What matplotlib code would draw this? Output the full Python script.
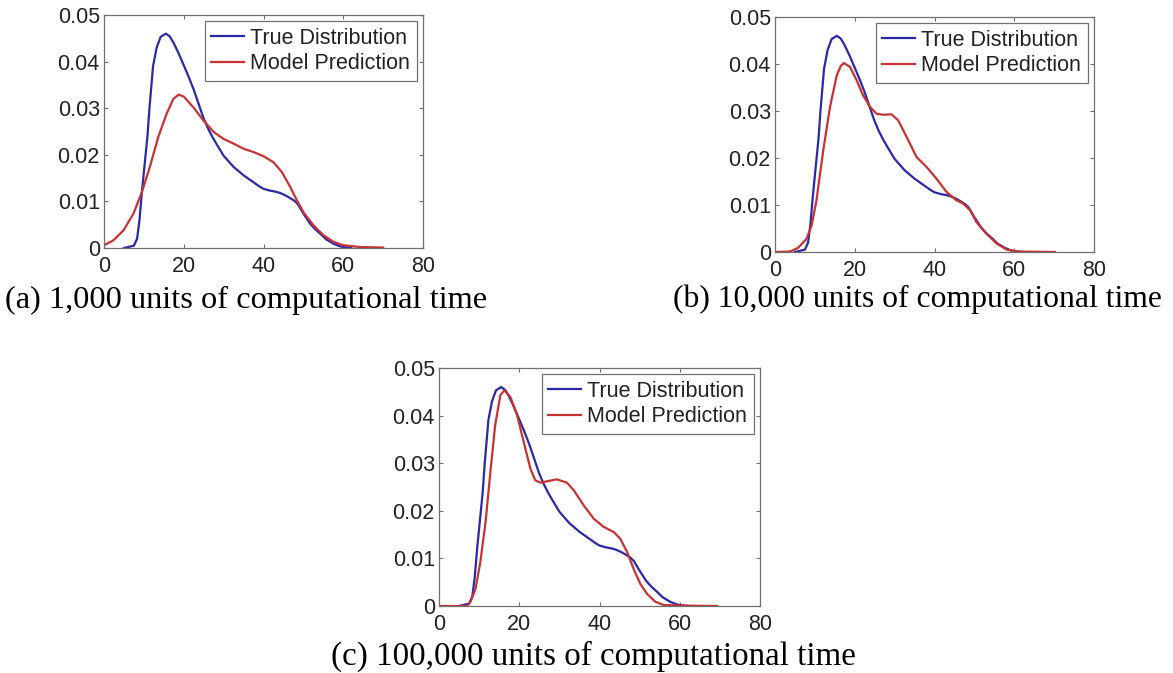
import numpy as np
import matplotlib
matplotlib.use("Agg")
import matplotlib.pyplot as plt

# True distribution (same in every panel)
true_x = [5, 7.5, 8.3, 8.9, 9.5, 10.2, 10.9, 11.4, 12.3, 13.2, 14.2, 15.5, 16.5, 17.4,
          18.7, 20, 21.2, 22.4, 23.7, 24.9, 26, 27.2, 28.3, 30, 32.5, 35, 37.5, 39, 40,
          41.7, 43, 44.2, 45.5, 46.7, 47.8, 48.6, 49.3, 50, 51.7, 53, 54.2, 55.8, 57.6,
          59, 60, 62]
true_y = [0, 0.0005, 0.002, 0.006, 0.012, 0.018, 0.024, 0.030, 0.0390, 0.0430, 0.0453,
          0.0460, 0.0454, 0.0441, 0.0418, 0.0392, 0.0368, 0.0342, 0.0310, 0.0280, 0.0258,
          0.0238, 0.0222, 0.0198, 0.0174, 0.0156, 0.0141, 0.0132, 0.0127, 0.0123, 0.0121,
          0.0118, 0.0113, 0.0107, 0.0101, 0.0094, 0.0084, 0.0074, 0.0052, 0.0040, 0.0031,
          0.0018, 0.0009, 0.0004, 0.0002, 0]

# Model prediction after 1,000 units
pred_a_x = [0, 2.3, 4.9, 7.4, 9.5, 11.5, 13.6, 15.7, 17.4, 18.7, 20, 22.4, 24.9, 27.5,
            30, 32.5, 35, 37.5, 40, 42.5, 44.6, 46.7, 48.4, 50, 52.5, 55.1, 57.6, 60,
            64.3, 70]
pred_a_y = [0.0006, 0.0016, 0.0038, 0.0074, 0.012, 0.0174, 0.0238, 0.0288, 0.0320,
            0.0329, 0.0325, 0.0302, 0.0274, 0.0249, 0.0234, 0.0224, 0.0213, 0.0206,
            0.0197, 0.0184, 0.0163, 0.0131, 0.0102, 0.0077, 0.0049, 0.0027, 0.0013,
            0.0006, 0.0002, 0.0001]

# Model prediction after 10,000 units
pred_b_x = [0, 3.8, 5.8, 7.9, 9.2, 10.4, 12.1, 13.8, 15.5, 16.5, 17.3, 18.8, 20.5, 22.1,
            23.8, 25.5, 27.2, 29.2, 30.9, 33, 35.5, 38, 40.5, 43, 45.5, 47.2, 48.9, 50.5,
            53, 55.6, 58.1, 60.6, 70.2]
pred_b_y = [0, 0.0001, 0.0009, 0.0028, 0.0057, 0.011, 0.0216, 0.0309, 0.0376, 0.0396,
            0.0402, 0.0394, 0.0365, 0.0333, 0.0309, 0.0294, 0.0292, 0.0293, 0.0280,
            0.0245, 0.0202, 0.0181, 0.0156, 0.0128, 0.0110, 0.0103, 0.0089, 0.0064,
            0.0039, 0.0018, 0.0005, 0.0001, 0]

# Model prediction after 100,000 units
pred_c_x = [0, 7.0, 7.8, 9.1, 10.3, 11.6, 12.8, 14, 15.3, 16.3, 17.8, 19.5, 21.1, 22.8,
            24, 25.3, 26.9, 29.4, 31.9, 33.6, 36.1, 38.6, 41.1, 43.6, 45.2, 46.9, 48.5,
            50.2, 51.9, 53.9, 56, 60, 69.3]
pred_c_y = [0, 0, 0.0008, 0.0036, 0.0092, 0.0176, 0.0281, 0.0380, 0.0443, 0.0453,
            0.0439, 0.0400, 0.0345, 0.0288, 0.0264, 0.0259, 0.0262, 0.0266, 0.0259,
            0.0243, 0.0211, 0.0183, 0.0166, 0.0155, 0.0141, 0.0113, 0.0078, 0.0046,
            0.0025, 0.0009, 0.0002, 0.0001, 0]

x_ticks = [0, 20, 40, 60, 80]
y_ticks = [0, 0.01, 0.02, 0.03, 0.04, 0.05]
y_tick_labels = ["0", "0.01", "0.02", "0.03", "0.04", "0.05"]

captions = ["(a) 1,000 units of computational time",
            "(b) 10,000 units of computational time",
            "(c) 100,000 units of computational time"]

W, H = 1173, 673
BLUE = "#2a2aa8"
RED = "#c83232"
GRAY = "#707070"

fig = plt.figure(figsize=(W / 100, H / 100), dpi=100)


def px_axes(left, top, right, bottom):
    return fig.add_axes([left / W, 1 - bottom / H, (right - left) / W, (bottom - top) / H])


def draw_panel(ax, pred_x, pred_y):
    ax.plot(true_x, true_y, color=BLUE, lw=1.6, label="True Distribution")
    ax.plot(pred_x, pred_y, color=RED, lw=1.6, label="Model Prediction")
    ax.set_xlim(0, 80)
    ax.set_ylim(0, 0.05)
    ax.set_xticks(x_ticks)
    ax.set_yticks(y_ticks)
    ax.set_yticklabels(y_tick_labels)
    ax.tick_params(direction="in", length=3, width=0.8, color=GRAY,
                   top=True, right=True, labelsize=15.5, labelcolor="#222222")
    ax.tick_params(axis="x", pad=6)
    ax.tick_params(axis="y", pad=3)
    for s in ax.spines.values():
        s.set_color(GRAY)
        s.set_linewidth(0.9)
    leg = ax.legend(loc="upper right", fontsize=15.5, handlelength=1.5,
                    handletextpad=0.3, borderpad=0.3, labelspacing=0.2,
                    borderaxespad=0.3, fancybox=False, framealpha=1)
    leg.get_frame().set_edgecolor(GRAY)
    leg.get_frame().set_linewidth(0.9)
    for t in leg.get_texts():
        t.set_color("#222222")


plt.rcParams["font.family"] = ["Liberation Sans", "DejaVu Sans"]

ax_a = px_axes(104, 15, 423, 248)
draw_panel(ax_a, pred_a_x, pred_a_y)
ax_b = px_axes(775, 17, 1094, 252)
draw_panel(ax_b, pred_b_x, pred_b_y)
ax_c = px_axes(439, 368, 760, 606)
draw_panel(ax_c, pred_c_x, pred_c_y)

serif = ["Liberation Serif", "DejaVu Serif"]
fig.text(5 / W, 1 - 308 / H, captions[0], ha="left", va="baseline",
         family=serif, fontsize=23.3)
fig.text(673 / W, 1 - 307 / H, captions[1], ha="left", va="baseline",
         family=serif, fontsize=22.8)
fig.text(593 / W, 1 - 665 / H, captions[2], ha="center", va="baseline",
         family=serif, fontsize=23.8)

fig.savefig("out.png", dpi=100)
